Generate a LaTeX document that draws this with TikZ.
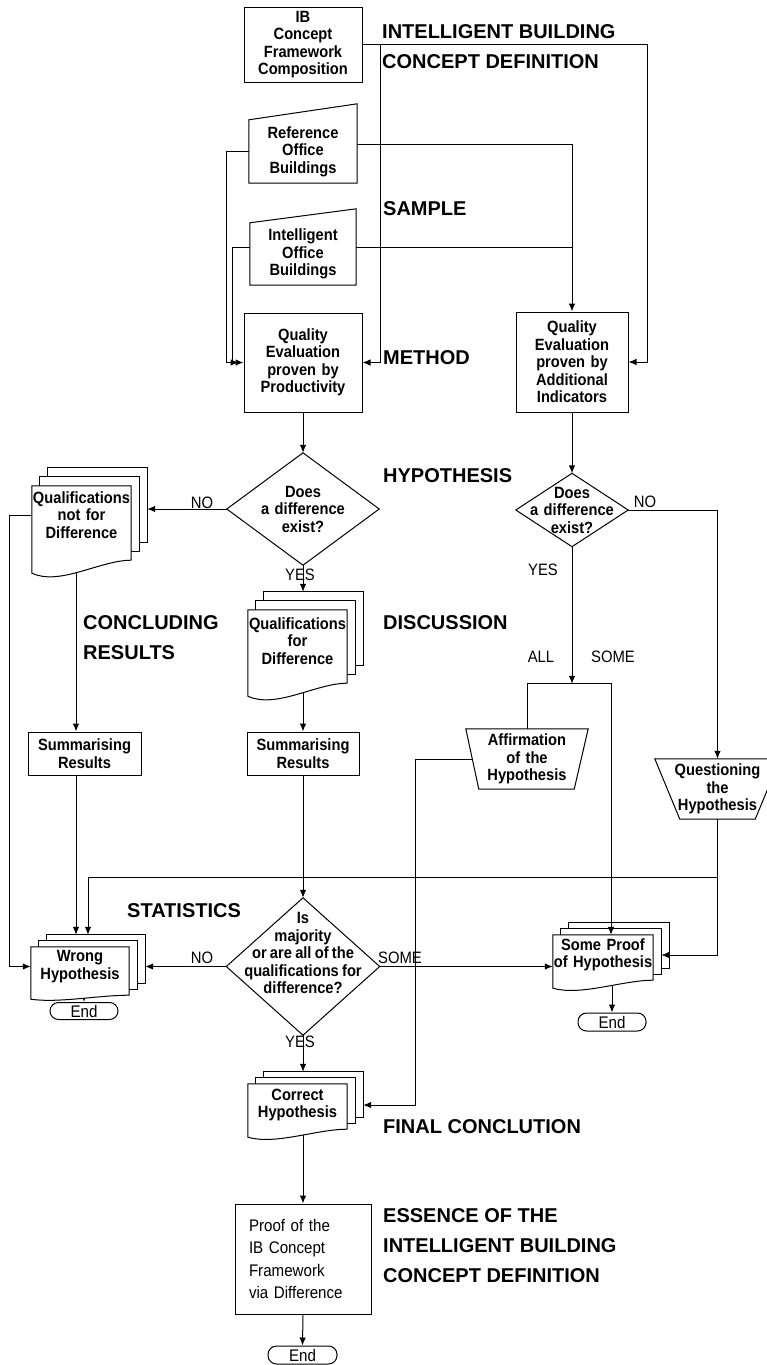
\documentclass[tikz,border=0pt]{standalone}
\usepackage{fontspec}
\setmainfont{Liberation Sans}
\newfontfamily\narrowsans{Liberation Sans}[FakeStretch=0.9,WordSpace=0.8]
\usetikzlibrary{arrows.meta,calc}
\pgfdeclarelayer{lines}
\pgfdeclarelayer{outlines}
\pgfsetlayers{lines,outlines,main}

\newcommand{\boxfnt}{\narrowsans\fontsize{16.3}{17.5}\selectfont\bfseries}
\newcommand{\headfnt}{\fontsize{20}{30}\selectfont\bfseries}
\newcommand{\tagfnt}{\narrowsans\fontsize{16.5}{18}\selectfont}
\newcommand{\plainfnt}{\narrowsans\fontsize{16.8}{22.3}\selectfont}

% stacked document symbol: node, drop of the right edge, page offsets dx/dy, wave drop
\newcommand{\multidoc}[5]{%
  \draw[outline] ([xshift=2*#3pt,yshift=2*#4pt]#1.north west) rectangle ([xshift=2*#3pt,yshift=2*#4pt-#2pt]#1.south east);
  \draw[outline] ([xshift=#3pt,yshift=#4pt]#1.north west) rectangle ([xshift=#3pt,yshift=#4pt-#2pt]#1.south east);
  \draw[outline] (#1.north west) -- (#1.north east) -- ([yshift=-#2pt]#1.south east)
     .. controls +(-31,0) and +(28,#5) .. ([yshift=-#2pt-#5pt]#1.south west) -- cycle;
  \coordinate (#1b) at ([xshift=2*#3pt]#1.east);
  \coordinate (#1m) at ([xshift=#3pt]#1.east);
  \coordinate (#1t) at ([yshift=2*#4pt]#1.north);
}

\tikzset{
  base/.style={inner sep=0pt, align=center, font=\boxfnt},
  boxnode/.style={base, draw, fill=white, line width=1pt},
  outline/.style={draw, fill=white, line width=1pt},
  link/.style={line width=1pt},
  arr/.style={link, -{Latex[length=8pt,width=6.5pt]}},
  head/.style={inner sep=0pt, anchor=west, align=left, font=\headfnt},
  tag/.style={inner sep=0pt, font=\tagfnt},
  terminal/.style={draw, fill=white, line width=1pt, rounded corners=8.5pt,
    inner sep=0pt, font=\plainfnt},
}

\begin{document}
\begin{tikzpicture}[x=1pt,y=-1pt]
\useasboundingbox (0,0) rectangle (767,1365);
\clip (0,0) rectangle (767,1365);

% ---------- process boxes and text areas ----------
\node[boxnode, text width=118pt, minimum height=75pt] (ibc) at (303,44.5)
  {IB\\Concept\\Framework\\Composition};
\node[base, text width=108pt, minimum height=63pt] (rob) at (303,151.5)
  {Reference\\Office\\Buildings};
\node[base, text width=106pt, minimum height=62pt] (iob) at (303,254)
  {Intelligent\\Office\\Buildings};
\node[boxnode, text width=118pt, minimum height=99pt] (qp) at (303,362.5)
  {Quality\\Evaluation\\proven by\\Productivity};
\node[boxnode, text width=112pt, minimum height=100pt] (qa) at (572,362)
  {Quality\\Evaluation\\proven by\\Additional\\Indicators};
\node[base, text width=152pt, minimum height=112pt] (d1) at (303,509)
  {Does\\a difference\\exist?};
\node[base, text width=112pt, minimum height=73pt] (d2) at (572,510)
  {Does\\a difference\\exist?};
\node[base, text width=99pt, minimum height=58pt] (qnd) at (81.5,515)
  {Qualifications\\not for\\Difference};
\node[base, text width=99pt, minimum height=62pt] (qfd) at (297.5,641)
  {Qualifications\\for\\Difference};
\node[boxnode, text width=113pt, minimum height=43pt] (srl) at (84.5,753.5)
  {Summarising\\Results};
\node[boxnode, text width=112pt, minimum height=43pt] (src) at (303,753.5)
  {Summarising\\Results};
\node[base, text width=122pt, minimum height=60pt] (aff) at (527,759)
  {Affirmation\\of the\\Hypothesis};
\node[base, text width=125pt, minimum height=60pt] (qh) at (717.5,789)
  {Questioning\\the\\Hypothesis};
\node[base, text width=153pt, minimum height=137pt] (d3) at (303,966.5) {};
\node[base] (d3t) at (303,953)
  {Is\\majority\\or are all of the\\qualifications for\\difference?};
\node[base, text width=98pt, minimum height=39pt] (wh) at (80,966.5)
  {Wrong\\Hypothesis};
\node[base, text width=100pt, minimum height=40pt] (sph) at (603,955)
  {Some Proof\\of Hypothesis};
\node[base, text width=99pt, minimum height=42pt] (ch) at (297.5,1105)
  {Correct\\Hypothesis};
\node[draw, fill=white, line width=1pt, inner sep=0pt, inner xsep=14pt,
  text width=108pt, minimum height=110pt, align=left,
  font=\plainfnt] (proof) at (303,1259)
  {Proof of the\\IB Concept\\Framework\\via Difference};
\node[terminal, minimum width=68pt, minimum height=17pt] (end1) at (84,1011) {End};
\node[terminal, minimum width=68pt, minimum height=18pt] (end2) at (612,1022) {End};
\node[terminal, minimum width=69pt, minimum height=18pt] (end3) at (302.5,1355) {End};

% ---------- outlines of the special symbols ----------
\begin{pgfonlayer}{outlines}
  \draw[outline] (rob.south west) -- (rob.south east) -- ([yshift=16pt]rob.north east)
    -- (rob.north west) -- cycle;
  \draw[outline] (iob.south west) -- (iob.south east) -- ([yshift=14pt]iob.north east)
    -- (iob.north west) -- cycle;
  \draw[outline] (d1.north) -- (d1.east) -- (d1.south) -- (d1.west) -- cycle;
  \draw[outline] (d2.north) -- (d2.east) -- (d2.south) -- (d2.west) -- cycle;
  \draw[outline] (d3.north) -- (d3.east) -- (d3.south) -- (d3.west) -- cycle;
  \draw[outline] (aff.north west) -- (aff.north east) -- ([xshift=-14pt]aff.south east)
    -- ([xshift=13pt]aff.south west) -- cycle;
  \draw[outline] (qh.north west) -- (qh.north east) -- ([xshift=-25pt]qh.south east)
    -- ([xshift=25pt]qh.south west) -- cycle;
  \multidoc{qnd}{16}{8}{9}{13}
  \multidoc{qfd}{11}{8}{9}{13}
  \multidoc{wh}{9}{8}{6}{4}
  \multidoc{sph}{5}{8}{6}{8}
  \multidoc{ch}{3}{8}{6}{8}
\end{pgfonlayer}

% ---------- section headings ----------
\node[head] (hdef) at (382,47) {INTELLIGENT BUILDING\\CONCEPT DEFINITION};
\node[head] (hsam) at (383,209) {SAMPLE};
\node[head] (hmet) at (383,358) {METHOD};
\node[head] (hhyp) at (383,476) {HYPOTHESIS};
\node[head] (hdis) at (383,623) {DISCUSSION};
\node[head] (hcon) at (83,637.5) {CONCLUDING\\RESULTS};
\node[head] (hsta) at (127,911) {STATISTICS};
\node[head] (hfin) at (383,1127) {FINAL CONCLUTION};
\node[head] (hess) at (383,1246) {ESSENCE OF THE\\INTELLIGENT BUILDING\\CONCEPT DEFINITION};

% ---------- branch tags ----------
\node[tag] (no1) at (202,503) {NO};
\node[tag] (yes1) at (300,575) {YES};
\node[tag] (no2) at (645,502) {NO};
\node[tag] (yes2) at (543,570) {YES};
\node[tag] (all) at (541,657) {ALL};
\node[tag] (some1) at (613,657) {SOME};
\node[tag] (no3) at (202,958) {NO};
\node[tag] (some2) at (400,958) {SOME};
\node[tag] (yes3) at (300,1042) {YES};

% ---------- junction points ----------
\coordinate (split) at ([yshift=45pt]aff.north);
\coordinate (hb) at ([yshift=-58pt]qh.south);
\coordinate (whi1) at ([xshift=-4pt]wht);
\coordinate (whi2) at ([xshift=8pt]wht);
\coordinate (sphi) at ([xshift=8pt]sph.north);

% ---------- connectors ----------
\begin{pgfonlayer}{lines}
  \draw[arr] (ibc.center) -| ([xshift=19pt]qa.east) -- (qa.east);
  \draw[arr] ([xshift=77pt]ibc.center) |- (qp.east);
  \draw[arr, shorten >=5pt] (rob.center) -- ++(-77,0) |- (qp.west);
  \draw[arr] ([yshift=7.5pt]rob.center) -| (qa.north);
  \draw[arr] ([yshift=7pt]iob.center) -- ++(-71,0) |- (qp.west);
  \draw[link] ([yshift=7pt]iob.center) -- ([yshift=7pt]iob.center -| qa.north);
  \draw[arr] (qp.south) -- (d1.north);
  \draw[arr] (d1.west) -- (d1.west -| qndb);
  \draw[arr] (d1.south) -- (d1.south |- qfdt);
  \draw[arr] (qnd.center) -- ++(-72.5,0) |- (wh.west);
  \draw[arr] (whi1 |- qnd.center) -- (whi1 |- srl.north);
  \draw[arr] (whi1 |- srl.center) -- (whi1);
  \draw[arr] (src.north |- qfd.center) -- (src.north);
  \draw[arr] (src.south) -- (d3.north);
  \draw[arr] (d3.west) -- (d3.west -| whb);
  \draw[arr] (d3.east) -- (d3.east -| sph.west);
  \draw[arr] (d3.south) -- (d3.south |- cht);
  \draw[arr] (proof.north |- ch.center) -- (proof.north);
  \draw[arr] (proof.south) -- (end3.north);
  \draw[arr] (end1.north |- wh.center) -- (end1.north);
  \draw[arr] (end2.north |- sph.center) -- (end2.north);
  \draw[arr] (qa.south) -- (d2.north);
  \draw[arr] (d2.east) -| (qh.north);
  \draw[arr] (d2.south) -- (d2.south |- split);
  \draw[link] (aff.center) -- (split);
  \draw[arr] (aff.center) -- ++(-112,0) |- (chb);
  \draw[arr] (qh.center) -- (hb) -| (whi2);
\end{pgfonlayer}
\draw[arr] (split) -| (sphi);
\draw[arr] (hb) |- (sphm);

\end{tikzpicture}
\end{document}
